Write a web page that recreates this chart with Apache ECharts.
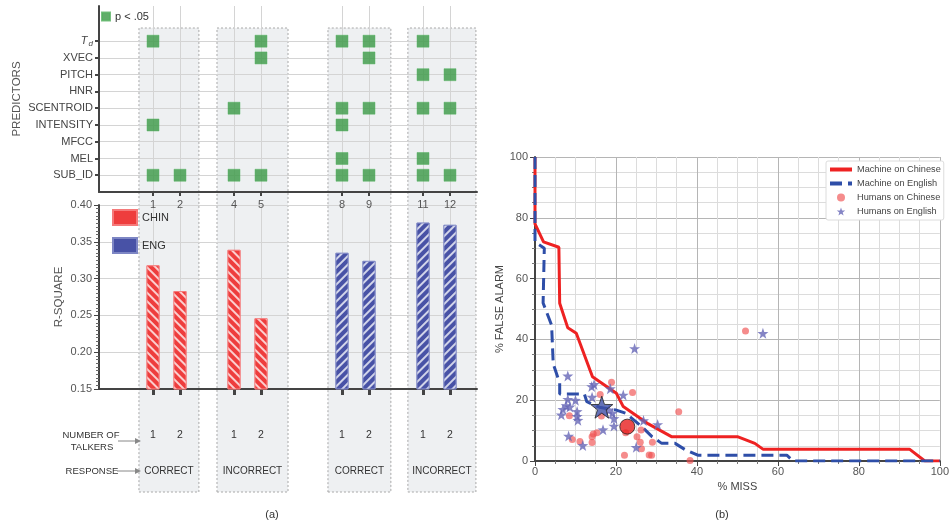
<!DOCTYPE html>
<html><head><meta charset="utf-8">
<script src="https://cdn.jsdelivr.net/npm/echarts@6/dist/echarts.min.js"></script>
<style>html,body{margin:0;padding:0;background:#fff}#c{width:952px;height:524px}</style>
</head><body><div id="c"></div>
<script>
// ---------- data ----------
const predictors = ['SUB_ID','MEL','MFCC','INTENSITY','SCENTROID','HNR','PITCH','XVEC','T_d'];
const columns = [1,2,4,5,8,9,11,12];
const talkers = ['1','2','1','2','1','2','1','2'];
const responses = ['CORRECT','INCORRECT','CORRECT','INCORRECT'];
const sigCells = [
  [1,'T_d'],[1,'INTENSITY'],[1,'SUB_ID'],
  [2,'SUB_ID'],
  [4,'SCENTROID'],[4,'SUB_ID'],
  [5,'T_d'],[5,'XVEC'],[5,'SUB_ID'],
  [8,'T_d'],[8,'SCENTROID'],[8,'INTENSITY'],[8,'MEL'],[8,'SUB_ID'],
  [9,'T_d'],[9,'XVEC'],[9,'SCENTROID'],[9,'SUB_ID'],
  [11,'T_d'],[11,'PITCH'],[11,'SCENTROID'],[11,'MEL'],[11,'SUB_ID'],
  [12,'PITCH'],[12,'SCENTROID'],[12,'SUB_ID']
];
const chinCols = [1,2,4,5];
const chinR2 = [0.318,0.283,0.339,0.246];
const engCols = [8,9,11,12];
const engR2 = [0.335,0.324,0.376,0.373];

const machineChin = [[0,100],[0,78],[0.3,77.6],[2.1,72.1],[5.9,70.3],[6.1,51.9],[8.1,43.8],[10.2,42],[14.2,27.7],[20.1,22.3],[21.8,17.9],[28,12.2],[33.7,8],[50,8],[54.3,5.8],[56.3,3.9],[92.5,3.9],[96.3,0],[100,0]];
const machineEng = [[0,100],[0,72],[2.3,70],[2.0,52],[4.1,44.7],[4.5,32],[6.1,25.6],[6.1,22],[12.2,22],[12.8,19.5],[15.9,17.7],[19.9,16.8],[22.4,15.7],[26.4,11.3],[28.9,8],[31.3,5.8],[34.6,5.8],[37,3.8],[40.2,1.9],[62.2,1.9],[63.8,0],[100,0]];
const humansChin = [[52.0,42.8],[18.9,25.9],[24.1,22.5],[16.1,21.9],[35.5,16.2],[8.5,14.9],[16.4,14.8],[22.4,9.3],[26.2,10.2],[15.3,9.3],[14.4,8.9],[14.1,8.0],[25.2,8.0],[9.2,7.1],[11.1,6.4],[14.1,6.1],[26.0,6.2],[29.0,6.2],[26.3,4.0],[22.1,1.9],[28.2,2.0],[28.8,1.9],[38.3,0.2]];
const humansEng = [[56.3,42],[24.6,37],[8.1,28],[14.0,24.5],[14.6,25.2],[21.8,21.7],[18.6,23.8],[8.1,20.3],[10,20],[14.1,21],[6.9,17],[7.7,18.2],[8.6,17.8],[6.5,15.2],[10.4,16.3],[10.4,14.7],[10.6,13.4],[19.1,15.7],[19.5,14],[19.5,11.5],[16.8,10.3],[8.3,8.2],[11.8,5.1],[25,4.5],[26.8,13.3],[30.3,12],[18.3,16.8]];
const chinMean = [22.8,11.3];
const engMean = [16.5,17.7];

// ---------- chart ----------
const F = '"Liberation Sans", Arial, Helvetica, sans-serif';
const dark = '#444', grid = '#d4d4d4';
const STAR = 'path://M0,-10L2.35,-3.24L9.51,-3.09L3.8,1.24L5.88,8.09L0,4L-5.88,8.09L-3.8,1.24L-9.51,-3.09L-2.35,-3.24Z';
const chart = echarts.init(document.getElementById('c'));
const rowVals = predictors.map((p,i)=>i+1);

const option = {
  animation:false,
  textStyle:{fontFamily:F},
  grid:[
    {left:99, top:6, width:378, height:186},
    {left:99, top:205, width:378, height:184},
    {left:99, top:28, width:378, height:464},
    {left:535, top:157, width:410, height:304}
  ],
  legend:[
    {data:['p < .05'], left:101, top:11, padding:0, icon:'rect', itemWidth:8, itemHeight:8,
     textStyle:{fontSize:11, color:'#333'}},
    {data:[{name:'CHIN'},{name:'ENG'}], orient:'vertical', left:112, top:209, padding:0, icon:'rect', itemWidth:24, itemHeight:15, itemGap:11,
     itemStyle:{decal:'none'}, textStyle:{fontSize:11, color:'#333'}},
    {data:[{name:'Machine on Chinese', itemStyle:{opacity:0}},{name:'Machine on English', itemStyle:{opacity:0}},'Humans on Chinese','Humans on English'], orient:'vertical',
     left:826, top:161, padding:[4,3,4,2], itemWidth:22, itemHeight:8, itemGap:5, backgroundColor:'#fff',
     lineStyle:{width:4},
     borderColor:'#dcdcdc', borderWidth:1, borderRadius:2, textStyle:{fontSize:9.2, color:'#444'}}
  ],
  xAxis:[
    {gridIndex:0, type:'value', min:-1, max:13,
     axisLine:{onZero:false, lineStyle:{color:dark, width:2}},
     axisTick:{customValues:columns, length:4, lineStyle:{color:dark, width:2}},
     axisLabel:{customValues:columns, color:'#555', fontSize:11, margin:7},
     splitLine:{show:true, lineStyle:{color:grid}}},
    {gridIndex:1, type:'value', min:-1, max:13,
     axisLine:{onZero:false, lineStyle:{color:dark, width:2}},
     axisTick:{customValues:columns, length:6, lineStyle:{color:dark, width:3}},
     axisLabel:{show:false, customValues:columns},
     splitLine:{show:true, lineStyle:{color:grid}}},
    {gridIndex:2, type:'value', min:-1, max:13, show:false},
    {gridIndex:3, type:'value', min:0, max:100, interval:20,
     name:'% MISS', nameLocation:'middle', nameGap:19, nameTextStyle:{fontSize:11, color:'#444'},
     axisLine:{onZero:false, lineStyle:{color:dark, width:2}},
     axisTick:{length:5, lineStyle:{color:dark}},
     minorTick:{show:true, splitNumber:4, length:3, lineStyle:{color:'#777'}},
     axisLabel:{color:'#555', fontSize:11, margin:5},
     splitLine:{show:true, lineStyle:{color:'#b5b5b5'}},
     minorSplitLine:{show:true, lineStyle:{color:'#dcdcdc'}}}
  ],
  yAxis:[
    {gridIndex:0, type:'value', min:0, max:11.1,
     name:'PREDICTORS', nameLocation:'middle', nameGap:76, nameTextStyle:{fontSize:11.5, color:'#555'},
     axisLine:{onZero:false, lineStyle:{color:dark, width:2}},
     axisTick:{customValues:rowVals, length:4, lineStyle:{color:dark, width:2}},
     axisLabel:{customValues:rowVals, color:'#444', fontSize:11, margin:6,
       formatter:v=>{const n=predictors[Math.round(v)-1]; return n==='T_d' ? '{it|T}{sub|d}' : n;},
       rich:{it:{fontStyle:'italic', fontSize:11, color:'#444', fontFamily:F},
             sub:{fontStyle:'italic', fontSize:8, color:'#444', padding:[6,0,0,1], fontFamily:F}}},
     splitLine:{show:true, lineStyle:{color:grid}}},
    {gridIndex:1, type:'value', min:0.15, max:0.40, interval:0.05,
     name:'R-SQUARE', nameLocation:'middle', nameGap:34, nameTextStyle:{fontSize:11.5, color:'#555'},
     axisLine:{onZero:false, lineStyle:{color:dark, width:2}},
     axisTick:{length:5, lineStyle:{color:dark}},
     minorTick:{show:true, splitNumber:10, length:3, lineStyle:{color:'#666'}},
     axisLabel:{color:'#555', fontSize:11, margin:7, formatter:v=>v.toFixed(2)},
     splitLine:{show:true, lineStyle:{color:grid}}},
    {gridIndex:2, type:'value', min:0, max:1, show:false},
    {gridIndex:3, type:'value', min:0, max:100, interval:20,
     name:'% FALSE ALARM', nameLocation:'middle', nameGap:30, nameTextStyle:{fontSize:11, color:'#444'},
     axisLine:{onZero:false, lineStyle:{color:dark, width:2}},
     axisTick:{length:5, lineStyle:{color:dark}},
     minorTick:{show:true, splitNumber:4, length:3, lineStyle:{color:'#777'}},
     axisLabel:{color:'#555', fontSize:11, margin:7},
     splitLine:{show:true, lineStyle:{color:'#b5b5b5'}},
     minorSplitLine:{show:true, lineStyle:{color:'#dcdcdc'}}}
  ],
  series:[
    {type:'scatter', name:'boxes', xAxisIndex:2, yAxisIndex:2, z:-1, silent:true,
     data:[[-5,-5]], symbolSize:0,
     markArea:{silent:true, z:-1, itemStyle:{color:'rgba(200,205,212,0.3)', borderColor:'#a8a8a8', borderWidth:1, borderType:[2,2]},
       data:[
         [{xAxis:0.48, yAxis:0},{xAxis:2.70, yAxis:1}],
         [{xAxis:3.37, yAxis:0},{xAxis:6.00, yAxis:1}],
         [{xAxis:7.48, yAxis:0},{xAxis:9.81, yAxis:1}],
         [{xAxis:10.44, yAxis:0},{xAxis:12.96, yAxis:1}]
       ]}},
    {type:'scatter', name:'p < .05', xAxisIndex:0, yAxisIndex:0, symbol:'rect', symbolSize:12,
     itemStyle:{color:'#3a9845', borderColor:'#55b060', borderWidth:0.6},
     data:sigCells.map(c=>[c[0], predictors.indexOf(c[1])+1])},
    {type:'bar', name:'CHIN', xAxisIndex:1, yAxisIndex:1, barWidth:13, barGap:'-100%',
     itemStyle:{color:'#ee3d3d', borderColor:'#f57a7a', borderWidth:0.8,
       decal:{symbol:'rect', symbolSize:1, dashArrayX:[1,0], dashArrayY:[1.4,3.8], rotation:Math.PI/4, color:'rgba(255,255,255,0.75)'}},
     data:chinCols.map((c,i)=>[c, chinR2[i]])},
    {type:'bar', name:'ENG', xAxisIndex:1, yAxisIndex:1, barWidth:13, barGap:'-100%',
     itemStyle:{color:'#4852a6', borderColor:'#7d86c4', borderWidth:0.8,
       decal:{symbol:'rect', symbolSize:1, dashArrayX:[1,0], dashArrayY:[1.4,3.8], rotation:-Math.PI/4, color:'rgba(255,255,255,0.75)'}},
     data:engCols.map((c,i)=>[c, engR2[i]])},
    {type:'line', name:'Machine on Chinese', xAxisIndex:3, yAxisIndex:3, symbol:'none', z:3,
     itemStyle:{color:'#ee2222'}, lineStyle:{color:'#ee2222', width:3}, data:machineChin},
    {type:'line', name:'Machine on English', xAxisIndex:3, yAxisIndex:3, symbol:'none', z:3,
     itemStyle:{color:'#2e4ea8'}, lineStyle:{color:'#2e4ea8', width:3, type:[12,6]}, data:machineEng},
    {type:'scatter', name:'Humans on Chinese', xAxisIndex:3, yAxisIndex:3, symbol:'circle', symbolSize:7, z:4,
     itemStyle:{color:'rgba(240,80,80,0.82)'}, data:humansChin},
    {type:'scatter', name:'Humans on English', xAxisIndex:3, yAxisIndex:3, symbol:STAR, symbolSize:11, z:4,
     itemStyle:{color:'#6666b6'}, data:humansEng},
    {type:'scatter', name:'mean Chinese', xAxisIndex:3, yAxisIndex:3, symbol:'circle', symbolSize:15, z:5,
     itemStyle:{color:'#e81e1e', borderColor:'#222', borderWidth:1}, data:[chinMean]},
    {type:'scatter', name:'mean English', xAxisIndex:3, yAxisIndex:3, symbol:STAR, symbolSize:22, z:5,
     itemStyle:{color:'#3d4fa6', borderColor:'#222', borderWidth:1}, data:[engMean]}
  ]
};
chart.setOption(option);

// annotation text positioned through the axis scale
const px = v => chart.convertToPixel({xAxisIndex:2}, v);
const boxesX = [[0.48,2.70],[3.37,6.00],[7.48,9.81],[10.44,12.96]];
const txt = (x,y,t,opt) => ({type:'text', x:x, y:y, style:Object.assign({text:t, fill:'#333', font:'10px '+F, textAlign:'center', textVerticalAlign:'middle'}, opt||{})});
const g = [];
columns.forEach((c,i)=>g.push(txt(px(c), 435, talkers[i], {font:'10.5px '+F})));
responses.forEach((r,i)=>g.push(txt(px((boxesX[i][0]+boxesX[i][1])/2), 471, r, {font:'10px '+F})));
g.push(txt(91, 435, 'NUMBER OF', {font:'9.5px '+F}));
g.push(txt(92, 447, 'TALKERS', {font:'9.5px '+F}));
g.push(txt(92, 471, 'RESPONSE', {font:'9.5px '+F}));
[441,471].forEach(y=>{
  g.push({type:'line', shape:{x1:y===441?118:117, y1:y, x2:136, y2:y}, style:{stroke:'#888', lineWidth:1}});
  g.push({type:'polygon', shape:{points:[[135,y-3],[141,y],[135,y+3]]}, style:{fill:'#888'}});
});
g.push(txt(272, 515, '(a)', {font:'11px '+F}));
g.push(txt(722, 515, '(b)', {font:'11px '+F}));
chart.setOption({graphic:g});
</script>
</body></html>
